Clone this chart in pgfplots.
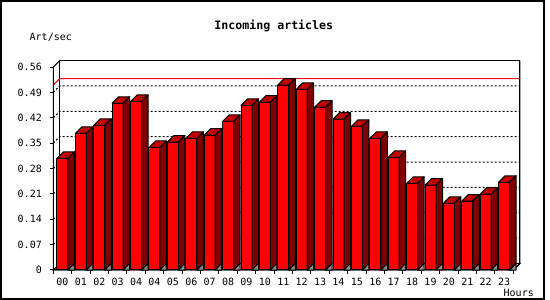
\documentclass[border=0pt]{standalone}
\usepackage{pgfplots}
\pgfplotsset{compat=1.18}
\usepackage{pgfplotstable}
\usepackage{fontspec}
\setmainfont{DejaVu Sans Mono}
\definecolor{barfront}{HTML}{FF0000}
\definecolor{bartop}{HTML}{C00000}
\definecolor{barside}{HTML}{800000}
\definecolor{floorgray}{HTML}{909090}
\pgfdeclareplotmark{nothing}{}
\pgfplotstableread{
x y
0 0.308
1 0.377
2 0.399
3 0.460
4 0.465
5 0.338
6 0.353
7 0.363
8 0.372
9 0.410
10 0.454
11 0.463
12 0.510
13 0.498
14 0.449
15 0.416
16 0.396
17 0.363
18 0.311
19 0.239
20 0.234
21 0.184
22 0.190
23 0.209
24 0.242
}\datatable
\newcommand\smallfont{\fontsize{10}{12}\selectfont}
\begin{document}
\begin{tikzpicture}[x=1pt,y=1pt]
\useasboundingbox (0,0) rectangle (550,300);
\fill[white] (0,0) rectangle (550,300);
\draw[line width=2pt] (1,1) rectangle (544,299);
\begin{axis}[
  at={(53.3pt,30pt)}, anchor=south west,
  scale only axis, width=460pt, height=203pt,
  xmin=-0.5, xmax=24.5, ymin=0, ymax=0.56,
  clip=false,
  axis x line*=bottom, axis y line*=left,
  axis line style={draw=none},
  tick align=outside,
  xtick={0,...,24},
  xticklabels={00,01,02,03,04,04,05,06,07,08,09,10,11,12,13,14,15,16,17,18,19,20,21,22,23},
  major x tick style={draw=none},
  minor xtick={-0.5,0.5,...,24.5},
  minor x tick style={black, line width=1pt},
  minor tick length=4pt,
  ytick={0,0.07,0.14,0.21,0.28,0.35,0.42,0.49,0.56},
  yticklabels={0,0.07,0.14,0.21,0.28,0.35,0.42,0.49,0.56},
  major tick length=3pt,
  y tick style={black, line width=1pt},
  tick label style={font=\smallfont, inner sep=0pt},
  xticklabel style={anchor=base, yshift=-12.7pt},
  yticklabel style={anchor=east, xshift=-8.3pt},
  xticklabel shift=0pt, yticklabel shift=0pt,
]
% floor
\filldraw[fill=white, draw=black, line width=1pt] (axis cs:-0.5,0) -- ([shift={(6.5pt,6.5pt)}]axis cs:-0.5,0) -- ([shift={(6.5pt,6.5pt)}]axis cs:24.5,0) -- (axis cs:24.5,0) -- cycle;
% back wall
\draw[line width=1pt] ([shift={(6.5pt,6.5pt)}]axis cs:-0.5,0) -- ([shift={(6.5pt,6.5pt)}]axis cs:-0.5,0.56) -- ([shift={(6.5pt,6.5pt)}]axis cs:24.5,0.56) -- ([shift={(6.5pt,6.5pt)}]axis cs:24.5,0);
% grid
\pgfplotsinvokeforeach{0.07,0.14,0.21,0.28,0.35,0.42,0.49}{
  \draw[dash pattern=on 2pt off 2pt, line width=1pt] (axis cs:-0.5,#1) -- ([shift={(6.5pt,6.5pt)}]axis cs:-0.5,#1) -- ([shift={(6.5pt,6.5pt)}]axis cs:24.5,#1);
}
% max line
\draw[red, line width=1pt] (axis cs:-0.5,0.51) -- ([shift={(6.5pt,6.5pt)}]axis cs:-0.5,0.51) -- ([shift={(6.5pt,6.5pt)}]axis cs:24.5,0.51);
% bars
\addplot[ybar, bar width=11pt, fill=barfront, draw=black, line width=1pt] table[x=x,y=y]{\datatable};
\addplot[scatter, only marks, mark=nothing,
  visualization depends on={\thisrow{y} \as \barval},
  scatter/@pre marker code/.code={%
    \pgfmathsetmacro\hbot{-\barval*362.5}%
    \pgfmathsetmacro\htop{6.5-\barval*362.5}%
    \filldraw[fill=bartop, draw=black, line width=1pt, line join=round] (-5.5pt,0pt) -- (5.5pt,0pt) -- (12pt,6.5pt) -- (1pt,6.5pt) -- cycle;
    \filldraw[fill=barside, draw=black, line width=1pt, line join=round] (5.5pt,0pt) -- (12pt,6.5pt) -- (12pt,\htop pt) -- (5.5pt,\hbot pt) -- cycle;
    \filldraw[fill=floorgray, draw=black, line width=1pt, line join=round] (5.5pt,\hbot pt) -- (12pt,\htop pt) -- (12pt,\hbot pt) -- cycle;
  },
  scatter/@post marker code/.code={},
] table[x=x,y=y]{\datatable};
% front axis lines
\draw[line width=1pt] ([shift={(6.5pt,6.5pt)}]axis cs:-0.5,0.56) -- (axis cs:-0.5,0.56) -- (axis cs:-0.5,0) -- (axis cs:24.5,0) -- ([shift={(6.5pt,6.5pt)}]axis cs:24.5,0) -- ([shift={(6.5pt,6.5pt)}]axis cs:24.5,0.56);
\end{axis}
\node[font=\fontsize{11.6}{14}\selectfont\bfseries, anchor=base, inner sep=0pt] at (273.8,270.5) {Incoming articles};
\node[font=\smallfont, anchor=base west, inner sep=0pt] at (29.5,259.3) {Art/sec};
\node[font=\smallfont, anchor=base west, inner sep=0pt] at (503.5,3.5) {Hours};
\end{tikzpicture}
\end{document}
